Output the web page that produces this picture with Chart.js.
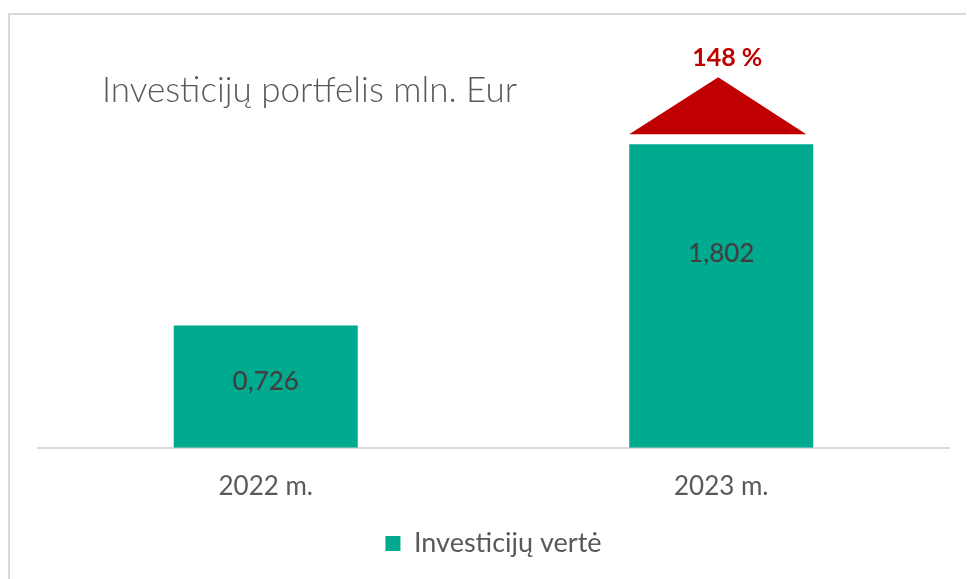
<!DOCTYPE html>
<html>
<head>
<meta charset="utf-8">
<script src="https://cdn.jsdelivr.net/npm/chart.js@4.4.0/dist/chart.umd.min.js"></script>
<style>
  html, body { margin: 0; padding: 0; background: #fff; }
  #wrap { width: 967px; height: 579px; position: relative; }
</style>
</head>
<body>
<div id="wrap"><canvas id="chart"></canvas></div>
<script>
const categories = ['2022 m.', '2023 m.'];
const values = [0.726, 1.802];
const valueLabels = ['0,726', '1,802'];
const seriesName = 'Investicijų vertė';
const titleText = 'Investicijų portfelis mln. Eur';
const growthText = '148 %';

const TEAL = '#00AA8E';
const RED = '#C00000';

// frame, title, value labels and growth arrow
const extras = {
  id: 'extras',
  afterDraw(chart) {
    const ctx = chart.ctx;
    const bars = chart.getDatasetMeta(0).data;
    ctx.save();

    ctx.strokeStyle = '#d9d9d9';
    ctx.lineWidth = 2;
    ctx.beginPath();
    ctx.moveTo(9, 579);
    ctx.lineTo(9, 14);
    ctx.lineTo(966, 14);
    ctx.stroke();

    ctx.fillStyle = '#595959';
    ctx.font = '300 35px Lato';
    ctx.textBaseline = 'middle';
    ctx.textAlign = 'left';
    ctx.fillText(titleText, 102, 91);

    ctx.fillStyle = '#404040';
    ctx.font = '500 26px Lato';
    ctx.textAlign = 'center';
    const labelPos = [0.46, 0.36];
    bars.forEach((b, i) => {
      const y = b.y + (b.base - b.y) * labelPos[i];
      ctx.fillText(valueLabels[i], b.x, y);
    });

    const last = bars[bars.length - 1];
    const half = last.width / 2;
    ctx.fillStyle = RED;
    ctx.beginPath();
    ctx.moveTo(last.x - half, last.y - 10);
    ctx.lineTo(last.x + half - 7, last.y - 10);
    ctx.lineTo(last.x - 3, last.y - 67);
    ctx.closePath();
    ctx.fill();

    ctx.font = 'bold 25px Lato';
    ctx.fillText(growthText, last.x + 6, last.y - 86);
    ctx.restore();
  }
};

new Chart(document.getElementById('chart'), {
  type: 'bar',
  plugins: [extras],
  data: {
    labels: categories,
    datasets: [{
      label: seriesName,
      data: values,
      backgroundColor: TEAL,
      barPercentage: 0.404,
      categoryPercentage: 1
    }]
  },
  options: {
    responsive: true,
    maintainAspectRatio: false,
    animation: false,
    layout: { padding: { left: 38, right: 18, top: 111, bottom: 12 } },
    plugins: {
      legend: {
        position: 'bottom',
        labels: {
          color: '#595959',
          font: { family: 'Lato', size: 27 },
          boxWidth: 15,
          boxHeight: 15,
          padding: 13
        }
      },
      tooltip: { enabled: false }
    },
    scales: {
      x: {
        grid: { display: false },
        border: { color: '#d9d9d9', width: 2 },
        ticks: { color: '#595959', font: { family: 'Lato', size: 26 }, padding: 15 }
      },
      y: {
        display: false,
        min: 0,
        max: 2
      }
    }
  }
});
</script>
</body>
</html>
